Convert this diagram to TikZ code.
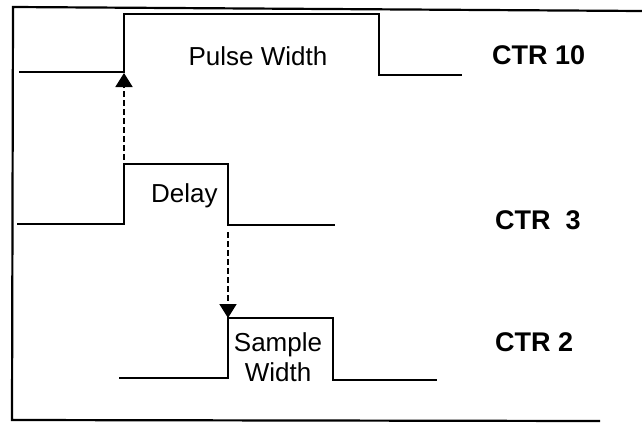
\documentclass[tikz,border=0pt]{standalone}
\usepackage{fontspec}
\setmainfont{Liberation Sans}
\usetikzlibrary{positioning, arrows.meta}

\tikzset{
  wave/.style={line width=1.4pt, line join=miter},
  frameline/.style={line width=2.2pt},
  trigger/.style={line width=1.8pt, dash pattern=on 6pt off 3pt,
                  -{Triangle[width=17pt, length=14pt]}},
  siglabel/.style={font=\fontsize{26}{30}\selectfont, inner sep=0pt},
  ctrlabel/.style={font=\fontsize{27}{30}\selectfont\bfseries, inner sep=0pt,
                   anchor=base west},
}

\begin{document}
\begin{tikzpicture}[x=1pt, y=-1pt]
  \useasboundingbox (0,0) rectangle (642,426);
  \draw[frameline] (642,11) -- (13,7) -- (12,420) -- (600,421);

  \draw[wave] (19,72) -- (124,72) -- (124,14) -- (379,14) -- (379,75) -- (462,75);
  \draw[wave] (17,224) -- (124,224) -- (124,164) -- (228,164) -- (228,225) -- (335,225);
  \draw[wave] (119,378) -- (228,378) -- (228,318) -- (333,318) -- (333,380) -- (437,380);

  \coordinate (delayrise) at (124,160);
  \coordinate (pulserise) at (124,73);
  \coordinate (delayfall) at (228,232);
  \coordinate (samplerise) at (228,318);
  \draw[trigger] (delayrise) -- (pulserise);
  \draw[trigger] (delayfall) -- (samplerise);

  \node[siglabel, anchor=base] (pulse) at (258,65) {Pulse Width};
  \node[siglabel, anchor=base west] (delay) at (151,202) {Delay};
  \node[siglabel, align=center] (sample) at (278,357) {Sample\\Width};

  \node[ctrlabel] (ctr10) at (492,64) {CTR 10};
  \node[ctrlabel] (ctr3) at (495,229) {CTR\ \ 3};
  \node[ctrlabel] (ctr2) at (495,351) {CTR 2};
\end{tikzpicture}
\end{document}
